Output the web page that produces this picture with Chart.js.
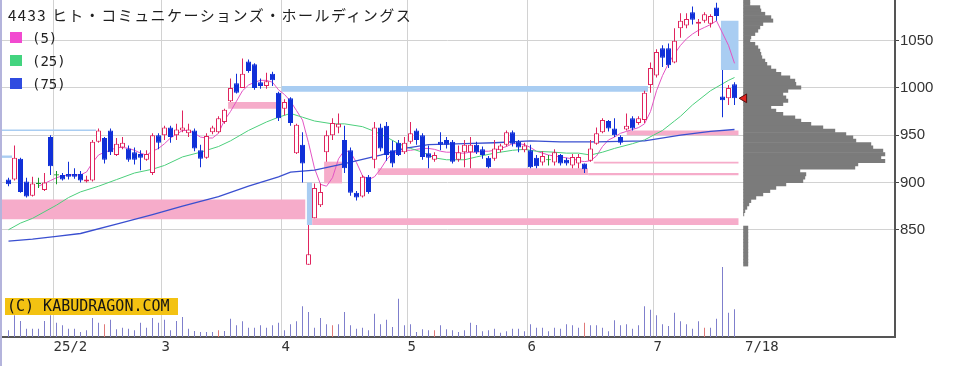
<!DOCTYPE html>
<html lang="ja">
<head>
<meta charset="utf-8">
<script src="https://cdn.jsdelivr.net/npm/chart.js@4/dist/chart.umd.min.js"></script>
<style>
  html, body { margin:0; padding:0; background:#fff; }
  #wrap { position:relative; width:955px; height:366px; overflow:hidden; background:#fff; }
  #chart { position:absolute; left:0; top:0; }
  #lborder { position:absolute; left:0; top:0; width:2px; height:366px; background:#b4b4dc; }
  #title { position:absolute; left:8px; top:5px; font-size:15px; font-family:"Noto Sans CJK JP", sans-serif; letter-spacing:1.45px; color:#1e1e1e; white-space:nowrap; line-height:20px; }
  .leg { position:absolute; left:10px; height:12px; font-size:14px; font-family:"DejaVu Sans Mono", monospace; color:#222; line-height:12px; white-space:nowrap; }
  .leg i { display:inline-block; width:12px; height:11px; vertical-align:top; margin-right:10px; }
  #copy { position:absolute; left:5px; top:298px; height:17px; width:173px; background:#f3c212; font-size:15px; font-family:"DejaVu Sans Mono", monospace; line-height:17px; color:#151515; padding-left:2px; box-sizing:border-box; white-space:nowrap; }
</style>
</head>
<body>
<div id="wrap">
  <canvas id="chart" width="955" height="366"></canvas>
  <div id="lborder"></div>
  <div id="title"></div>
  <div id="legend"></div>
  <div id="copy"></div>
</div>
<script>
// ---------------- DATA ----------------
const chartTitle = '4433 ヒト・コミュニケーションズ・ホールディングス';
const copyrightText = '(C) KABUDRAGON.COM';
const maLabels = ['(5)', '(25)', '(75)'];

const dates = [
 '1/22','1/23','1/24','1/27','1/28','1/29','1/30','1/31',
 '2/3','2/4','2/5','2/6','2/7','2/10','2/12','2/13','2/14','2/17','2/18','2/19','2/20','2/21','2/25','2/26','2/27','2/28',
 '3/3','3/4','3/5','3/6','3/7','3/10','3/11','3/12','3/13','3/14','3/17','3/18','3/19','3/21','3/24','3/25','3/26','3/27','3/28','3/31',
 '4/1','4/2','4/3','4/4','4/7','4/8','4/9','4/10','4/11','4/14','4/15','4/16','4/17','4/18','4/21','4/22','4/23','4/24','4/25','4/28','4/30',
 '5/1','5/2','5/7','5/8','5/9','5/12','5/13','5/14','5/15','5/16','5/19','5/20','5/21','5/22','5/23','5/26','5/27','5/28','5/29','5/30',
 '6/2','6/3','6/4','6/5','6/6','6/9','6/10','6/11','6/12','6/13','6/16','6/17','6/18','6/19','6/20','6/23','6/24','6/25','6/26','6/27','6/30',
 '7/1','7/2','7/3','7/4','7/7','7/8','7/9','7/10','7/11','7/14','7/15','7/16','7/17','7/18'
];

const open = [
 903,903,925,901,886,899,892,948,908,908,
 909,909,909,901,902,943,947,955,929,937,
 936,932,930,924,910,950,950,958,950,955,
 952,955,934,926,953,953,964,986,1005,1000,
 1028,1025,1006,1002,1015,995,978,989,931,940,
 813,862,876,932,950,958,945,934,889,885,
 906,924,958,960,934,942,932,943,955,950,
 931,924,943,945,943,924,932,932,940,935,
 926,925,934,940,953,943,934,934,926,921,
 924,921,929,924,918,920,920,923,941,953,
 965,957,948,956,968,963,966,1003,1013,1042,
 1042,1027,1063,1066,1080,1068,1071,1068,1085,991,
 989,1004
];
const high = [
 905,939,926,905,906,905,910,950,912,910,
 922,915,912,907,945,957,948,957,947,948,
 939,937,934,934,952,952,960,960,962,976,
 962,957,940,952,960,970,978,1010,1015,1031,
 1030,1026,1010,1016,1017,996,988,990,962,953,
 855,899,899,955,968,973,960,937,891,908,
 908,964,962,964,944,945,948,964,957,952,
 939,932,953,948,945,939,945,948,943,938,
 928,945,941,955,955,945,942,940,929,933,
 929,935,930,926,930,930,920,945,958,968,
 966,968,950,973,970,970,997,1027,1041,1045,
 1047,1063,1079,1079,1086,1073,1080,1078,1090,1019,
 1003,1006
];
const low = [
 896,902,889,884,885,894,891,908,898,902,
 903,904,900,900,901,942,920,929,928,935,
 922,919,913,923,908,935,945,942,945,953,
 948,933,916,925,951,952,962,985,994,1000,
 1016,998,999,999,1002,965,971,960,930,900,
 813,862,874,922,945,952,910,886,881,884,
 888,915,933,923,916,928,930,941,940,924,
 915,922,934,936,920,922,916,915,930,925,
 915,923,932,938,938,932,932,915,915,918,
 918,918,918,918,915,915,910,922,940,952,
 954,948,940,955,955,961,963,995,1011,1022,
 1021,1026,1053,1063,1067,1055,1069,1064,1071,969,
 982,982
];
const close = [
 898,926,890,885,899,899,900,917,908,903,
 906,906,902,903,943,955,924,932,941,942,
 924,924,926,930,950,942,958,948,956,958,
 956,936,925,949,958,968,977,1000,995,1015,
 1018,1000,1002,1007,1008,968,985,963,961,920,
 824,894,890,950,963,962,915,889,884,906,
 890,958,936,929,920,929,942,952,945,927,
 926,929,940,940,922,932,940,940,932,929,
 916,936,939,953,941,937,939,916,917,928,
 924,932,920,920,927,927,914,936,952,966,
 957,950,942,960,957,968,995,1021,1038,1032,
 1024,1050,1071,1073,1072,1070,1078,1076,1076,987,
 1000,989
];
// volume (hundreds of shares)
const volume = [
 67,217,160,83,83,83,160,217,143,117,
 83,83,50,67,190,143,127,173,77,93,
 83,67,143,93,190,143,173,67,160,200,
 83,60,50,50,50,67,60,183,117,157,
 93,93,117,93,117,143,67,127,157,307,
 250,93,190,127,117,127,250,117,83,93,
 67,233,127,173,100,383,117,127,50,77,
 67,67,117,77,67,50,67,143,120,57,
 67,83,43,57,83,83,57,127,93,93,
 57,93,83,127,117,93,143,117,117,93,
 57,167,117,127,83,117,307,273,217,127,
 110,243,157,127,83,157,93,93,183,700,
 243,277
];
const volumeMarked = [16, 35, 54, 71, 96, 116];

// moving averages
const ma5Start = 5;
const ma5 = [
 896,899,902,905,907,908,908,908,911,921,
 929,932,934,937,937,936,934,931,929,933,
 936,941,947,951,955,955,952,948,947,947,
 952,966,975,986,997,1003,1006,1008,1008,1006,
 998,993,986,976,966,942,915,898,896,905,
 925,934,932,921,907,903,906,914,924,931,
 932,934,934,935,936,936,935,933,932,932,
 931,931,932,932,933,933,934,936,938,941,
 941,940,937,933,931,929,928,927,926,925,
 923,922,923,928,938,945,948,952,954,956,
 958,962,975,997,1013,1026,1036,1045,1052,1057,
 1061,1064,1067,1071,1058,1045,1026
];
const ma25Idx = [0,2,4,8,10,12,15,18,21,24,26,29,32,35,37,40,43,45,47,49,51,54,56,59,61,63,65,67,69,71,73,76,78,81,84,86,88,91,93,95,97,99,101,104,106,109,111,112,114,117,120,121];
const ma25Val = [850,857,862,876,884,890,896,903,910,914,918,927,932,938,944,955,964,969,973,969,965,962,962,959,954,948,941,936,932,926,924,924,927,931,934,935,933,932,931,931,929,932,936,941,945,955,965,970,982,997,1008,1011];
const ma75Idx = [0,4,8,12,18,24,29,35,40,45,47,51,56,62,66,70,76,81,87,92,98,106,112,117,121];
const ma75Val = [838,840,843,846,856,866,875,885,896,906,911,913,920,929,936,940,941,942,944,943,943,944,950,954,956];

// unfilled gap windows (start/end in trading-day index units)
const gapStart = [-1.3,-1.3,-1.3,36.6,45.5,49.7,50.6,52.6,61.5,96.6,97.5,103.0,118.7];
const gapEnd   = [14.6,0.6,49.5,44.6,106.6,50.6,121.7,55.6,96.6,121.7,121.7,121.7,121.7];
const gapLow   = [954.5,926,861,978,996,855,855,899,908,907.5,920,950,1019];
const gapHigh  = [956,928.5,882,985,1002,900,862,922,915,910,922,955,1071];
const gapDir   = ['down','down','up','up','down','down','up','up','up','up','up','up','down'];

// price-by-volume profile
const profilePrice = [
 1092.4,1088.9,1085.3,1081.8,1078.3,1074.7,1071.2,1067.7,1064.1,1060.6,
 1057.1,1053.5,1050.0,1046.5,1042.9,1039.4,1035.9,1032.3,1028.8,1025.3,
 1021.7,1018.2,1014.7,1011.1,1007.6,1004.1,1000.5,997.0,993.5,989.9,
 986.4,982.9,979.3,975.8,972.3,968.7,965.2,961.7,958.1,954.6,
 951.1,947.5,944.0,940.5,936.9,933.4,929.9,926.3,922.8,919.3,
 915.7,912.2,908.7,905.1,901.6,898.1,894.5,891.0,887.5,883.9,
 880.4,876.9,873.3,869.8,866.3,862.7,859.2,855.7,852.1,848.6,
 845.1,841.5,838.0,834.5,830.9,827.4,823.9,820.3,816.8,813.3
];
const profileVol = [
 7,7,17,18,22,28,30,20,17,15,
 12,8,7,12,15,17,18,19,22,24,
 28,33,38,47,52,53,58,45,40,43,
 45,40,28,33,40,52,58,68,80,92,
 103,110,113,128,130,140,142,138,142,115,
 112,57,63,62,60,43,33,27,20,13,
 8,6,4,2,1,0,0,0,5,5,
 5,5,5,5,5,5,5,5,5,5
];

// axis ticks
const priceTicks = [850, 900, 950, 1000, 1050];
const tickMonths = [2, 3, 4, 5, 6, 7];
const tickMonthLabels = ['25/2', '3', '4', '5', '6', '7'];
const endLabel = '7/18';

// ---------------- STYLE ----------------
const C_UP = '#e0245e', C_DOWN = '#1030d8', C_EVEN = '#1a9a2a';
const C_MA = ['#e455c4', '#4ccf7c', '#3a4fd0'];
const C_LEG = ['#f24ad0', '#43d47f', '#2f4be0'];
const C_PINK = '#f6acca', C_LBLUE = '#a9cdf2';
const C_VOL = '#7f7fcc', C_VOL_MARK = '#e07878';
const C_PROFILE = '#7b7b7b';
const C_GRID = '#d2d2d2', C_AXIS = '#555555';

// ---------------- DOM TEXT ----------------
document.getElementById('title').textContent = chartTitle;
document.getElementById('copy').textContent = copyrightText;
const legEl = document.getElementById('legend');
maLabels.forEach((t, k) => {
  const d = document.createElement('div');
  d.className = 'leg';
  d.style.top = (32 + 23 * k) + 'px';
  const sw = document.createElement('i');
  sw.style.background = C_LEG[k];
  d.appendChild(sw);
  d.appendChild(document.createTextNode(t));
  legEl.appendChild(d);
});

// ---------------- BUILD ----------------
const N = dates.length;
const idx = dates.map((d, i) => i);
const lastIdx = N - 1;
const kind = idx.map(i => close[i] > open[i] ? 'up' : (close[i] < open[i] ? 'down' : 'even'));
const candleColor = kind.map(k => k === 'up' ? C_UP : (k === 'down' ? C_DOWN : C_EVEN));
const bodyFill = kind.map(k => k === 'up' ? '#ffffff' : (k === 'down' ? C_DOWN : C_EVEN));

const wickData = idx.map(i => ({x: i, y: [low[i], high[i]]}));
const bodyData = idx.map(i => {
  const lo = Math.min(open[i], close[i]), hi = Math.max(open[i], close[i]);
  return {x: i, y: (hi - lo < 1) ? [lo - 0.6, hi + 0.6] : [lo, hi]};
});

const monthOf = d => parseInt(d.split('/')[0], 10);
const tickVals = tickMonths.map(m => dates.findIndex(d => monthOf(d) === m) - 0.5);
tickVals.push(lastIdx + 1.75);
const tickText = tickMonthLabels.concat([endLabel]);

const X_MIN = -1.25, X_MAX = 147.75;
const Y_MIN = 736.5, Y_MAX = 1093;

const datasets = [];

gapStart.forEach((s, k) => {
  datasets.push({
    type: 'line', xAxisID: 'x', yAxisID: 'y', order: 6,
    data: [{x: s, y: gapHigh[k]}, {x: gapEnd[k], y: gapHigh[k]}],
    fill: {value: gapLow[k]},
    backgroundColor: gapDir[k] === 'up' ? C_PINK : C_LBLUE,
    borderColor: 'rgba(0,0,0,0)', borderWidth: 1, pointRadius: 0
  });
});

datasets.push({
  type: 'bar', xAxisID: 'x', yAxisID: 'yv', order: 7,
  data: idx.map(i => ({x: i, y: volume[i]})),
  backgroundColor: idx.map(i => volumeMarked.includes(i) ? C_VOL_MARK : C_VOL),
  barThickness: 1, grouped: false, borderWidth: 0, inflateAmount: 0
});

datasets.push({
  type: 'bar', indexAxis: 'y', xAxisID: 'xp', yAxisID: 'y', order: 4,
  data: profilePrice.map((p, k) => ({x: profileVol[k], y: p})),
  backgroundColor: C_PROFILE, barThickness: 4, grouped: false, borderWidth: 0, inflateAmount: 0
});

datasets.push({
  type: 'line', xAxisID: 'x', yAxisID: 'y', order: 3,
  data: ma75Idx.map((x, k) => ({x, y: ma75Val[k]})),
  borderColor: C_MA[2], borderWidth: 1.3, pointRadius: 0, fill: false, tension: 0
});
datasets.push({
  type: 'line', xAxisID: 'x', yAxisID: 'y', order: 3,
  data: ma25Idx.map((x, k) => ({x, y: ma25Val[k]})),
  borderColor: C_MA[1], borderWidth: 1, pointRadius: 0, fill: false, tension: 0
});
datasets.push({
  type: 'line', xAxisID: 'x', yAxisID: 'y', order: 3,
  data: ma5.map((v, k) => ({x: ma5Start + k, y: v})),
  borderColor: C_MA[0], borderWidth: 1, pointRadius: 0, fill: false, tension: 0
});

datasets.push({
  type: 'bar', xAxisID: 'x', yAxisID: 'y', order: 2,
  data: wickData, backgroundColor: candleColor,
  barThickness: 1, grouped: false, borderWidth: 0, inflateAmount: 0
});
datasets.push({
  type: 'bar', xAxisID: 'x', yAxisID: 'y', order: 1,
  data: bodyData, backgroundColor: bodyFill, borderColor: candleColor,
  barThickness: 5, grouped: false, borderWidth: 1, borderSkipped: false, inflateAmount: 0
});

datasets.push({
  type: 'line', xAxisID: 'x', yAxisID: 'y', order: 0, clip: false,
  data: [{x: lastIdx + 1.6, y: close[lastIdx]}],
  showLine: false, pointStyle: 'triangle', pointRotation: -90, pointRadius: 5,
  pointBackgroundColor: '#e4231f', pointBorderColor: '#5a0f0f', pointBorderWidth: 1
});

new Chart(document.getElementById('chart'), {
  type: 'line',
  data: {datasets},
  options: {
    responsive: false, animation: false, events: [],
    layout: {autoPadding: false, padding: {left: 1, right: 0, top: 0, bottom: 0}},
    plugins: {legend: {display: false}, tooltip: {enabled: false}, title: {display: false}},
    scales: {
      x: {
        type: 'linear', axis: 'x', position: 'bottom', min: X_MIN, max: X_MAX, offset: false,
        afterBuildTicks: s => { s.ticks = tickVals.map(v => ({value: v})); },
        afterFit: s => { s.height = 29; s.paddingLeft = 0; s.paddingRight = 0; },
        ticks: {
          autoSkip: false, maxRotation: 0, minRotation: 0, align: 'start', padding: 2,
          color: '#333', font: {family: 'DejaVu Sans Mono', size: 14},
          callback: (v, i) => tickText[i]
        },
        grid: {offset: false, drawTicks: false, lineWidth: 1,
               color: ctx => (ctx.index === tickText.length - 1 ? 'rgba(0,0,0,0)' : C_GRID)},
        border: {display: true, color: C_AXIS, width: 2}
      },
      y: {
        type: 'linear', axis: 'y', position: 'right', min: Y_MIN, max: Y_MAX, offset: false,
        afterBuildTicks: s => { s.ticks = priceTicks.map(v => ({value: v})); },
        afterFit: s => { s.width = 60; s.paddingTop = 0; s.paddingBottom = 0; },
        ticks: {padding: 1, color: '#333', font: {family: 'Liberation Sans', size: 15},
                callback: v => String(v)},
        grid: {offset: false, color: C_GRID, lineWidth: 1, tickLength: 4, tickColor: '#444'},
        border: {display: true, color: C_AXIS, width: 2}
      },
      yv: {type: 'linear', axis: 'y', display: false, min: 0, max: 3370, offset: false},
      xp: {type: 'linear', axis: 'x', display: false, min: -742.2, max: 151.8, offset: false}
    }
  }
});
</script>
</body>
</html>
